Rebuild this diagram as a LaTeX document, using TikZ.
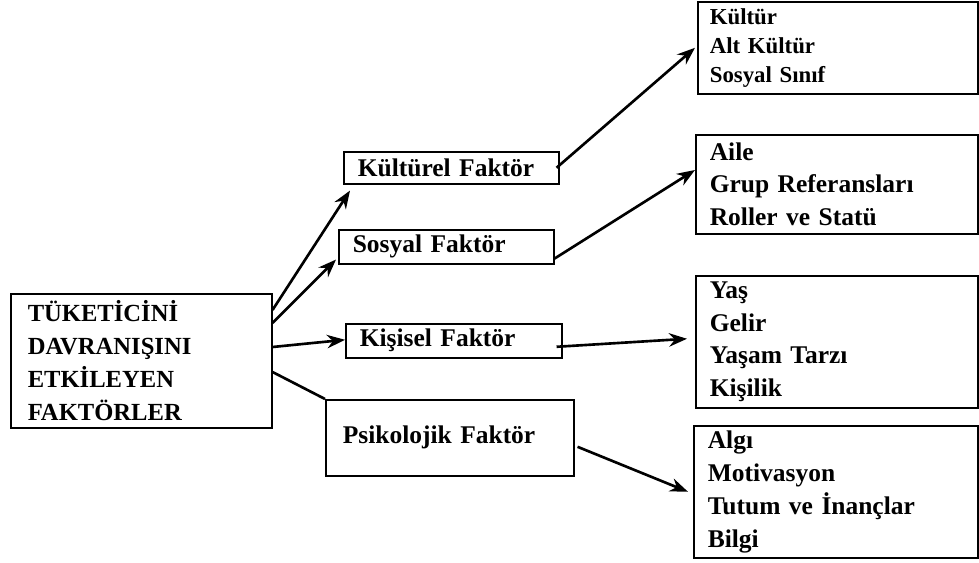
\documentclass[tikz,border=0pt]{standalone}
\usepackage{fontspec}
\setmainfont{Liberation Serif}
\usetikzlibrary{arrows.meta,positioning,calc}

\begin{document}
\begin{tikzpicture}[x=0.02cm,y=-0.02cm,>={Stealth[length=0.36cm,width=0.27cm]},
  font=\fontsize{14.5}{18.7}\selectfont\bfseries,
  kutu/.style={draw,line width=0.9pt,anchor=north west,inner xsep=0.28cm,inner ysep=0pt,align=left},
  ok/.style={->,line width=1.5pt}]
\useasboundingbox (0,0) rectangle (979,563);
\node[kutu,inner xsep=0.34cm,minimum width=5.22cm,minimum height=2.68cm,text width=4.54cm,font=\fontsize{14}{18.7}\selectfont\bfseries] (ana) at (10,293) {TÜKETİCİNİ\\DAVRANIŞINI\\ETKİLEYEN\\FAKTÖRLER};
\node[kutu,minimum width=4.30cm,minimum height=0.64cm,text width=3.74cm] (kulturel) at (343,151) {Kültürel Faktör};
\node[kutu,minimum width=4.30cm,minimum height=0.68cm,text width=3.74cm] (sosyal) at (338,229) {Sosyal Faktör};
\node[kutu,minimum width=4.32cm,minimum height=0.68cm,text width=3.76cm] (kisisel) at (345,323) {Kişisel Faktör};
\node[kutu,inner xsep=0.34cm,minimum width=4.96cm,minimum height=1.52cm,text width=4.28cm] (psikolojik) at (325,399) {Psikolojik Faktör};
\node[kutu,inner xsep=0.24cm,minimum width=5.60cm,minimum height=1.84cm,text width=5.12cm,font=\fontsize{13}{16.5}\selectfont\bfseries] (kultur) at (697,1) {Kültür\\Alt Kültür\\Sosyal Sınıf};
\node[kutu,minimum width=5.64cm,minimum height=1.98cm,text width=5.08cm] (grup) at (695,134) {Aile\\Grup Referansları\\Roller ve Statü};
\node[kutu,minimum width=5.64cm,minimum height=2.64cm,text width=5.08cm] (kisi) at (695,275) {Yaş\\Gelir\\Yaşam Tarzı\\Kişilik};
\node[kutu,minimum width=5.68cm,minimum height=2.64cm,text width=5.12cm] (algi) at (693,425) {Algı\\Motivasyon\\Tutum ve İnançlar\\Bilgi};
\draw[ok] ($(ana.north east)+(0,17)$) -- ($(kulturel.south west)+(7,6)$);
\draw[ok] ($(ana.north east)+(0,30)$) -- ($(sosyal.south west)+(-2,-5)$);
\draw[ok] ($(ana.north east)+(0,54)$) -- ($(kisisel.west)+(0,-1)$);
\draw[line width=1.5pt] ($(ana.north east)+(0,79)$) -- (psikolojik.north west);
\draw[ok] ($(kulturel.east)+(-3,0)$) -- ($(kultur.west)+(-2,0)$);
\draw[ok] ($(sosyal.south east)+(0,-6)$) -- ($(grup.north west)+(0,36)$);
\draw[ok] ($(kisisel.east)+(-6,6)$) -- ($(kisi.west)+(-8,-3)$);
\draw[ok] ($(psikolojik.east)+(3,9)$) -- ($(algi.west)+(-5,0)$);
\end{tikzpicture}
\end{document}
